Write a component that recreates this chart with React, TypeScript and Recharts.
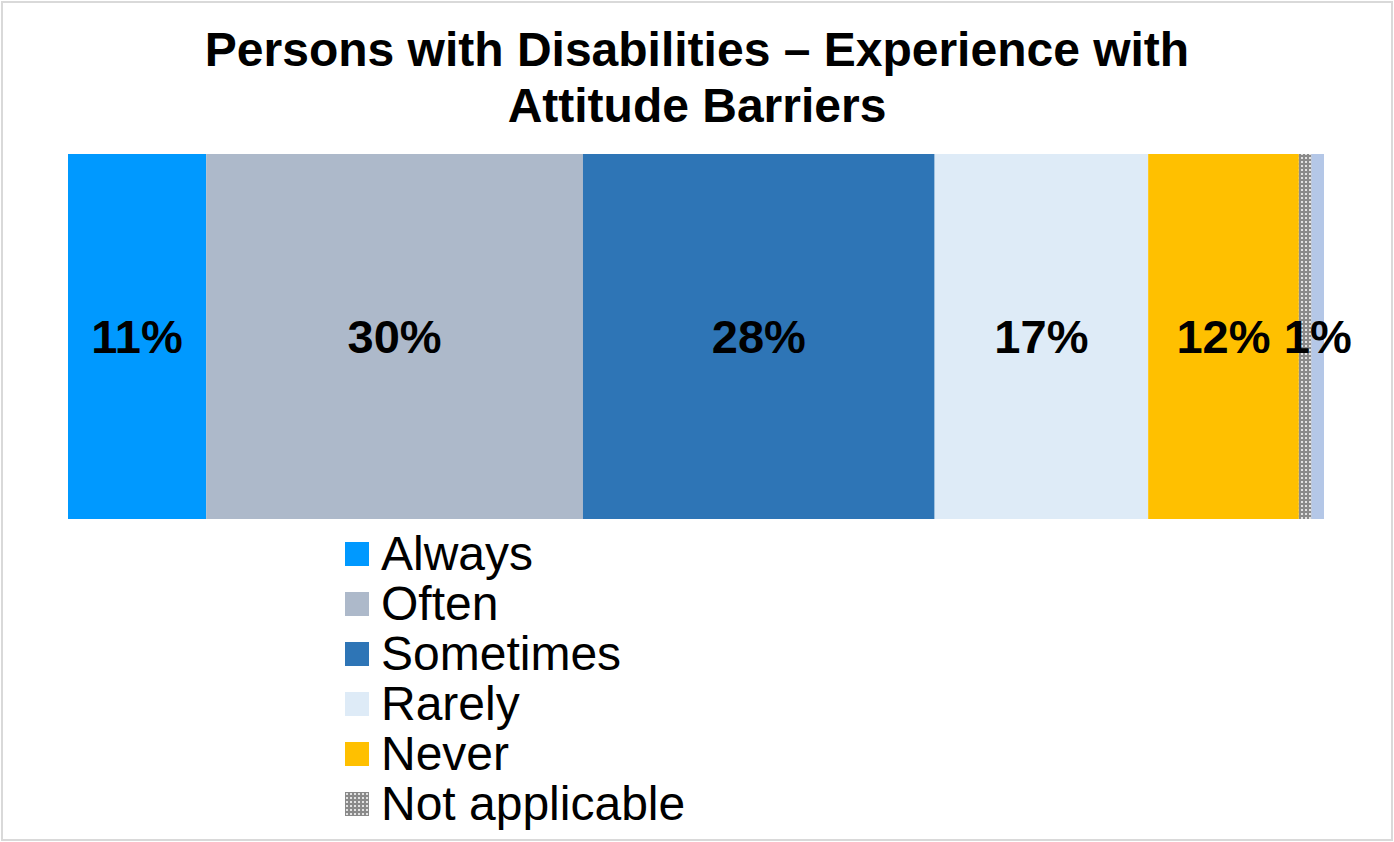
import React from 'react'
import { BarChart, Bar, XAxis, YAxis, Legend, LabelList } from 'recharts'

const categories = ['Attitude Barriers']
const seriesNames = ['Always', 'Often', 'Sometimes', 'Rarely', 'Never', 'Not applicable', 'No response']
const seriesValues = [11, 30, 28, 17, 12, 1, 1]
const seriesColors = ['#0099FF', '#ADB9CA', '#2E75B6', '#DEEBF7', '#FFC000', 'url(#naPattern)', '#B4C7E7']
const showLabel = [true, true, true, true, true, false, true]
const inLegend = [true, true, true, true, true, true, false]

const font = '"Liberation Sans", Arial, sans-serif'

const data = categories.map((name) => {
    const row: Record<string, string | number> = { name }
    seriesNames.forEach((s, i) => { row[s] = seriesValues[i] })
    return row
})

function LegendBox() {
    return (
        <div style={{ fontFamily: font }}>
            {seriesNames.map((s, i) => inLegend[i] && (
                <div key={s} style={{ display: 'flex', alignItems: 'center', height: 50 }}>
                    <svg width={24} height={24} style={{ marginRight: 12 }}>
                        <rect width={24} height={24} fill={seriesColors[i]} />
                    </svg>
                    <span style={{ fontSize: 48, lineHeight: '50px', color: '#000' }}>{s}</span>
                </div>
            ))}
        </div>
    )
}

export default function App() {
    return (
        <div style={{ position: 'absolute', left: 0, top: 0, width: 1394, height: 842, background: '#fff' }}>
            <div style={{ position: 'absolute', left: 1, top: 1, width: 1392, height: 840, border: '2px solid #d9d9d9', boxSizing: 'border-box' }} />
            <div style={{ position: 'absolute', left: 0, top: 22, width: 1394, textAlign: 'center', fontFamily: font, fontWeight: 'bold', fontSize: 48, lineHeight: '56px', color: '#000' }}>
                Persons with Disabilities – Experience with<br />Attitude Barriers
            </div>
            <BarChart
                style={{ position: 'absolute', left: 0, top: 0 }}
                width={1394}
                height={842}
                data={data}
                layout="vertical"
                barCategoryGap={0}
                margin={{ top: 154, right: 70, left: 68, bottom: 323 }}>
                <defs>
                    <pattern id="naPattern" width={4} height={4} patternUnits="userSpaceOnUse">
                        <rect width={4} height={4} fill="#8a8a8a" />
                        <rect x={1} y={1} width={2} height={2} fill="#e2e2e2" />
                    </pattern>
                </defs>
                <XAxis type="number" domain={[0, 100]} hide />
                <YAxis type="category" dataKey="name" hide />
                <Legend
                    layout="vertical"
                    align="center"
                    verticalAlign="middle"
                    content={() => <LegendBox />}
                    wrapperStyle={{ left: 345, top: 529, width: 420 }} />
                {seriesNames.map((s, i) => (
                    <Bar key={s} dataKey={s} stackId="a" fill={seriesColors[i]} isAnimationActive={false}>
                        {showLabel[i] && (
                            <LabelList
                                dataKey={s}
                                position="center"
                                formatter={(v: number) => `${v}%`}
                                fill="#000"
                                fontSize={47}
                                fontWeight="bold"
                                fontFamily={font} />
                        )}
                    </Bar>
                ))}
            </BarChart>
        </div>
    )
}
